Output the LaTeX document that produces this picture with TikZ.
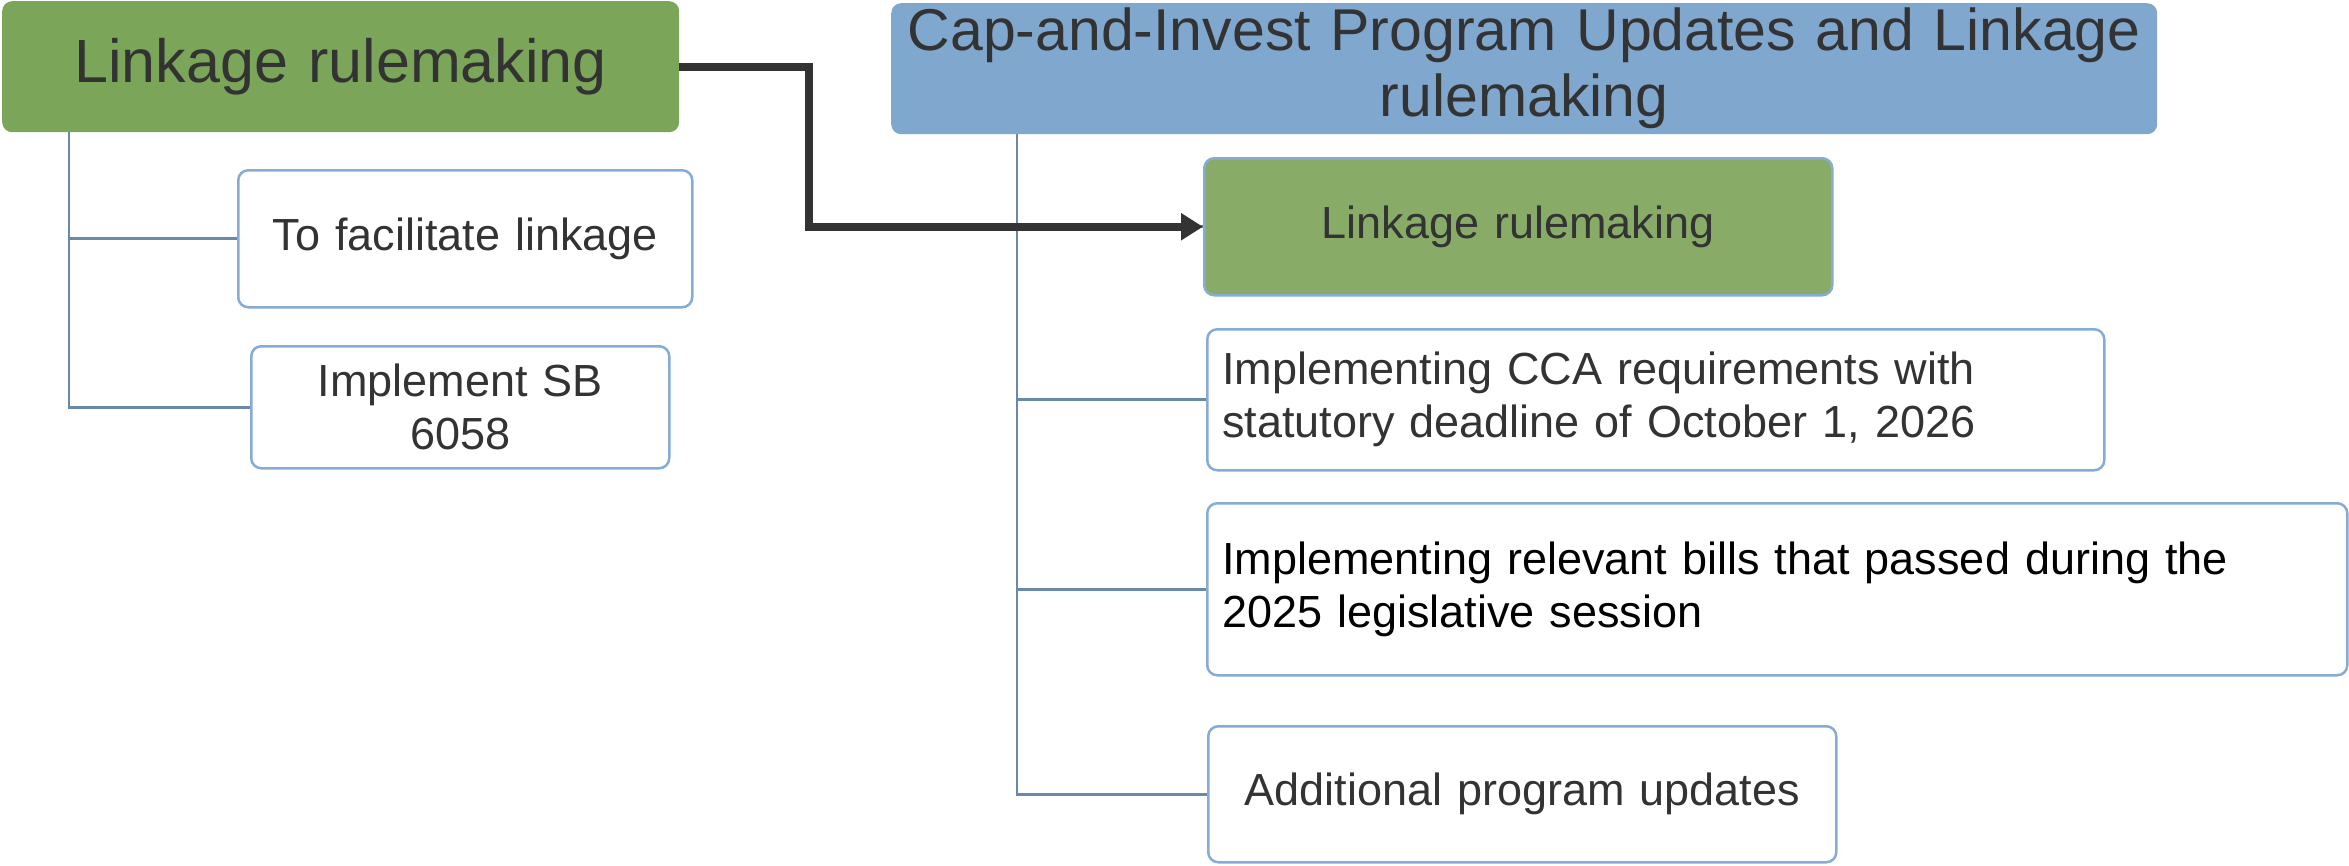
\documentclass[tikz,border=0pt]{standalone}
\usepackage{fontspec}
\setmainfont{Liberation Sans}
\usetikzlibrary{arrows.meta}
\definecolor{bigGreen}{HTML}{7BA65A}
\definecolor{smallGreen}{HTML}{88AC68}
\definecolor{hdrBlue}{HTML}{80A7CE}
\definecolor{bordC}{HTML}{86ACD4}
\definecolor{connC}{HTML}{6A88A8}
\definecolor{txtC}{HTML}{333333}
\definecolor{arrC}{HTML}{333333}
\begin{document}
\begin{tikzpicture}[x=1pt,y=-1pt,
  conn/.style={draw=connC, line width=2.8pt},
  basebox/.style={rounded corners=10pt, inner ysep=0pt, inner xsep=15pt, anchor=north west, text=txtC},
  wbox/.style={basebox, draw=bordC, line width=2.5pt, fill=white, font=\fontsize{45}{53}\selectfont},
  bigbox/.style={basebox, font=\fontsize{61}{64}\selectfont, align=center}
]
\useasboundingbox (0,0) rectangle (2349,865);

% top-level boxes
\node[bigbox, fill=bigGreen, minimum width=677pt, minimum height=131pt, text width=647pt] (lg) at (2,1) {Linkage rulemaking};
\node[bigbox, fill=hdrBlue, minimum width=1266pt, minimum height=131pt, text width=1246pt, inner xsep=10pt, font=\fontsize{59}{66}\selectfont] (hdr) at (891,3) {Cap-and-Invest Program Updates and Linkage\\rulemaking};

% left children
\node[wbox, minimum width=454pt, minimum height=137pt, text width=424pt, align=center] (tf) at (237,169) {To facilitate linkage};
\node[wbox, minimum width=418pt, minimum height=122pt, text width=388pt, align=center] (sb) at (250,345) {Implement SB\\6058};

% right children
\node[wbox, fill=smallGreen, minimum width=628pt, minimum height=137pt, text width=598pt, align=center] (sg) at (1203,157) {Linkage rulemaking};
\node[wbox, minimum width=897pt, minimum height=141pt, text width=867pt, align=left] (cca) at (1206,328) {Implementing CCA requirements with\\statutory deadline of October 1, 2026};
\node[wbox, minimum width=1140pt, minimum height=172pt, text width=1110pt, align=left, text=black] (bills) at (1206,502) {Implementing relevant bills that passed during the\\2025 legislative session};
\node[wbox, minimum width=628pt, minimum height=136pt, text width=598pt, align=center] (add) at (1207,725) {Additional program updates};

% tree connectors
\coordinate (lroot) at ([xshift=67pt]lg.south west);
\coordinate (rroot) at ([xshift=126pt]hdr.south west);
\draw[conn] (lroot) |- (tf.west);
\draw[conn] (lroot) |- (sb.west);
\draw[conn] (rroot) |- (sg.west);
\draw[conn] (rroot) |- (cca.west);
\draw[conn] (rroot) |- (bills.west);
\draw[conn] (rroot) |- (add.west);

% linkage arrow
\draw[line width=8pt, draw=arrC, -{Triangle[length=22pt,width=26pt]}] (lg.east) -- ++(130,0) |- (sg.west);
\end{tikzpicture}
\end{document}
